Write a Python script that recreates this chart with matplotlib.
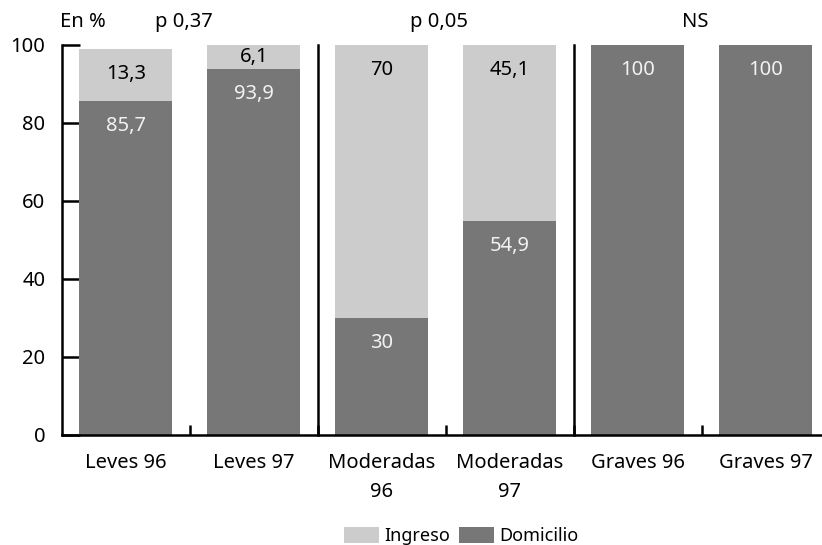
import numpy as np
import matplotlib
matplotlib.use("Agg")
import matplotlib.pyplot as plt

plt.rcParams['font.family'] = ['Noto Sans', 'DejaVu Sans']

# data
categorias = ['Leves 96', 'Leves 97', 'Moderadas\n96', 'Moderadas\n97', 'Graves 96', 'Graves 97']
domicilio = [85.7, 93.9, 30, 54.9, 100, 100]
ingreso = [13.3, 6.1, 70, 45.1, 0, 0]
grupos = ['p 0,37', 'p 0,05', 'NS']

c_dom = '#777777'
c_ing = '#cccccc'
fs = 14.5

fig = plt.figure(figsize=(8.22, 5.45), dpi=100)
ax = fig.add_axes([62/822, 1-435/545, 760/822, 390/545])

x = np.arange(len(categorias))
w = 0.727
ax.bar(x, domicilio, w, color=c_dom, label='Domicilio', zorder=2)
ax.bar(x, ingreso, w, bottom=domicilio, color=c_ing, label='Ingreso', zorder=2)

def fmt(v):
    s = ('%.1f' % v).rstrip('0').rstrip('.')
    return s.replace('.', ',')

# value labels, near the inside end of each segment
for i in range(len(x)):
    d = domicilio[i]
    ax.text(x[i], d - min(6.5, d/2), fmt(d), ha='center', va='center',
            color='#f2f2f2', fontsize=fs)
    g = ingreso[i]
    if g > 0:
        top = d + g
        ax.text(x[i], top - min(6.5, g/2), fmt(g), ha='center', va='center',
                color='black', fontsize=fs)

# separators between groups
for b in [1.5, 3.5]:
    ax.plot([b, b], [0, 100], color='black', lw=1.8, zorder=3, clip_on=False)

# group labels
ax.text(-0.34, 106, 'En %', ha='center', va='center', fontsize=fs, clip_on=False)
for gx, gt in zip([0.45, 2.45, 4.45], grupos):
    ax.text(gx, 106, gt, ha='center', va='center', fontsize=fs, clip_on=False)

ax.set_xlim(-0.5, 5.44)
ax.set_ylim(0, 100)
ax.set_yticks([0, 20, 40, 60, 80, 100])
ax.tick_params(axis='y', direction='in', length=13, width=1.8, labelsize=fs, pad=12)

ax.set_xticks(x)
ax.set_xticklabels(categorias, fontsize=fs, linespacing=1.6)
ax.tick_params(axis='x', length=0, pad=13)
ax.set_xticks(np.arange(0.5, 5.5, 1), minor=True)
ax.tick_params(axis='x', which='minor', direction='in', length=7, width=1.8)

for s in ['top', 'right']:
    ax.spines[s].set_visible(False)
ax.spines['left'].set_linewidth(1.8)
ax.spines['bottom'].set_linewidth(1.8)

h, l = ax.get_legend_handles_labels()
fig.legend(h[::-1], l[::-1], loc='lower center', bbox_to_anchor=(0.561, -0.03), ncol=2,
           frameon=False, fontsize=13, handlelength=1.95, handleheight=0.95,
           columnspacing=0.45, handletextpad=0.3)

fig.savefig('out.png', dpi=100)
